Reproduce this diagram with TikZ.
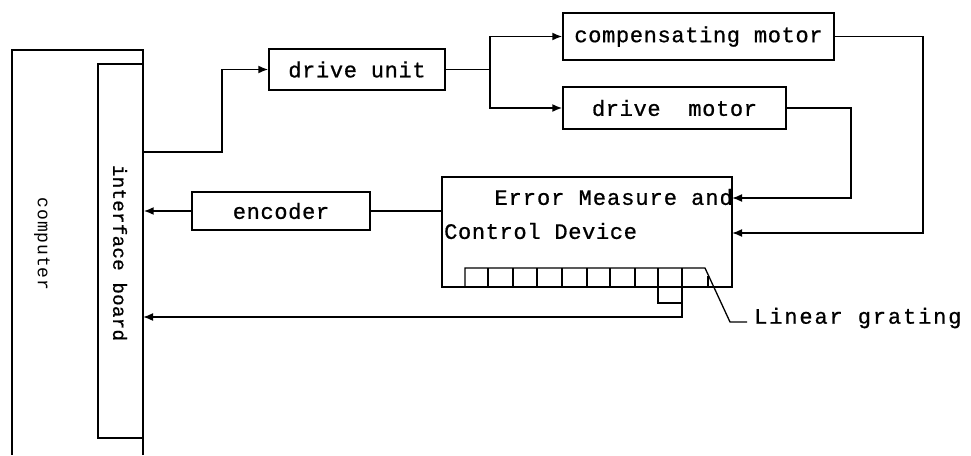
\documentclass[tikz,border=0pt]{standalone}
\usepackage{fontspec}
\newfontfamily\dm{Liberation Mono}[LetterSpace=3, FakeBold=0.8]
\newfontfamily\dme{Liberation Mono}[LetterSpace=4.5, FakeBold=0.8]
\newfontfamily\dml{Liberation Mono}[LetterSpace=8.5, FakeBold=0.8]
\newfontfamily\dmv{Liberation Mono}[LetterSpace=2, FakeBold=0.8]
\newfontfamily\dmc{Liberation Mono}[LetterSpace=5]
\usetikzlibrary{arrows.meta}
\tikzset{
  box/.style={draw, line width=1.4pt, inner sep=0pt, font=\dm\fontsize{22}{24}\selectfont},
  conn/.style={line width=1.7pt},
  arr/.style={conn, -{Latex[length=10pt,width=8pt]}},
  lbl/.style={inner sep=0pt, font=\dm\fontsize{22}{24}\selectfont},
}
\begin{document}
\begin{tikzpicture}[x=1pt,y=-1pt]
\useasboundingbox (0,0) rectangle (971,455);
% computer (open at bottom)
\draw[line width=1.8pt] (143,455) -- (143,50) -- (12,50) -- (12,455);
\node[inner sep=0pt, rotate=-90, font=\dmc\fontsize{18}{20}\selectfont] (comp) at (42,244) {computer};
% interface board
\node[draw, line width=1.4pt, minimum width=45pt, minimum height=374pt, inner sep=0pt] (ib) at (120.5,251) {};
\node[inner sep=0pt, rotate=-90, font=\dmv\fontsize{19}{20}\selectfont] (ibt) at (120,253) {interface board};
% boxes
\node[box, minimum width=176pt, minimum height=41pt] (du) at (357,69.5) {drive unit};
\node[box, minimum width=271pt, minimum height=47pt] (cm) at (698.5,36.5) {compensating motor};
\node[box, minimum width=223pt, minimum height=42pt] (dm) at (674.5,108) {drive\ \ motor};
\node[box, minimum width=290pt, minimum height=110pt] (em) at (587,232) {};
\node[lbl, anchor=east, font=\dme\fontsize{22}{24}\selectfont] (emt1) at (733,197) {Error Measure and};
\node[lbl, anchor=west] (emt2) at (444,231) {Control Device};
\node[box, minimum width=178pt, minimum height=38pt] (enc) at (281,211) {encoder};
\node[lbl, anchor=west, font=\dml\fontsize{22}{24}\selectfont] (lg) at (754,318) {Linear grating};
% coordinates
\coordinate (c1) at (143,152);
\coordinate (c2) at (222,152);
\coordinate (sp) at (490,69.5);
\coordinate (d1) at (851,108);
\coordinate (d2) at (732,198);
\coordinate (m1) at (923,36.5);
\coordinate (m2) at (732,233);
\coordinate (g1) at (682,287);
\coordinate (g2) at (682,317);
\coordinate (g3) at (143,317);
% connectors
\draw[arr] (c1) -- (c2) |- (du.west);
\draw[conn] (du.east) -- (sp);
\draw[arr] (sp) |- (cm.west);
\draw[arr] (sp) |- (dm.west);
\draw[arr] (dm.east) -- (d1) |- (d2);
\draw[arr] (cm.east) -- (m1) |- (m2);
\draw[conn] (em.west |- enc.east) -- (enc.east);
\draw[arr] (enc.west) -- (enc.west -| ib.east);
% grating
\draw[line width=1.3pt] (465,287) -- (465,268) -- (705,268) -- (730,322) -- (747,322);
\foreach \x in {488,513,537,562,587,610,635,658,682} \draw[line width=1.3pt] (\x,268) -- (\x,287);
\draw[line width=1.3pt] (708,276) -- (708,287);
\draw[line width=1.3pt] (658,287) -- (658,303) -- (682,303);
\draw[arr] (g1) -- (g2) -- (g3);
\end{tikzpicture}
\end{document}
